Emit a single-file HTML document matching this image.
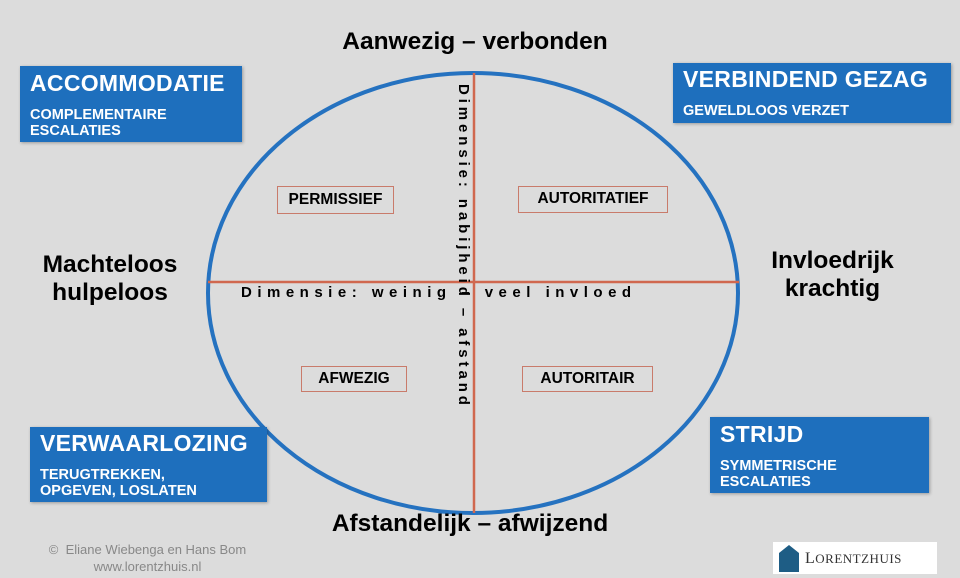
<!DOCTYPE html>
<html><head><meta charset="utf-8"><style>
body{margin:0;width:960px;height:578px;background:#dcdcdc;position:relative;overflow:hidden;font-family:"Liberation Sans",sans-serif}
.a{position:absolute}
.bb{position:absolute;background:#1e6fbd;color:#fff;font-weight:bold;box-shadow:1px 1px 3px rgba(0,0,0,.3)}
.bb .t{font-size:23px;letter-spacing:.3px}
.bb .s{font-size:14.5px;line-height:16px;margin-top:10px}
.q{position:absolute;border:1.5px solid #c97b6b;font-weight:bold;font-size:15.5px;text-align:center;box-sizing:border-box}
.h{position:absolute;font-weight:bold;font-size:24.5px;text-align:center}
</style></head><body>
<svg class="a" style="left:0;top:0" width="960" height="578">
<ellipse cx="473" cy="293" rx="265" ry="220" fill="none" stroke="#2572c0" stroke-width="4"/>
<line x1="208" y1="282" x2="739" y2="282" stroke="#d0684f" stroke-width="2.5"/>
<line x1="474" y1="73" x2="474" y2="513" stroke="#d0684f" stroke-width="2.5"/>
</svg>
<div class="h" style="left:270px;top:28px;width:410px">Aanwezig – verbonden</div>
<div class="h" style="left:260px;top:510px;width:420px">Afstandelijk – afwijzend</div>
<div class="h" style="left:10px;top:251px;width:200px;line-height:28px">Machteloos<br>hulpeloos</div>
<div class="h" style="left:750px;top:247px;width:165px;line-height:28px">Invloedrijk<br>krachtig</div>
<div class="a" style="left:241px;top:284px;font-size:15px;font-weight:bold;letter-spacing:5.5px;white-space:nowrap">Dimensie: weinig – veel invloed</div>
<div class="a" style="left:455px;top:84px;font-size:15px;font-weight:bold;letter-spacing:3.9px;writing-mode:vertical-rl;white-space:nowrap">Dimensie: nabijheid – afstand</div>
<div class="bb" style="left:20px;top:66px;width:222px;height:76px;padding:4px 10px;box-sizing:border-box"><div class="t">ACCOMMODATIE</div><div class="s">COMPLEMENTAIRE<br>ESCALATIES</div></div>
<div class="bb" style="left:673px;top:63px;width:278px;height:60px;padding:3px 10px;box-sizing:border-box"><div class="t">VERBINDEND GEZAG</div><div class="s" style="margin-top:10px">GEWELDLOOS VERZET</div></div>
<div class="bb" style="left:30px;top:427px;width:237px;height:75px;padding:3px 10px;box-sizing:border-box"><div class="t">VERWAARLOZING</div><div class="s">TERUGTREKKEN,<br>OPGEVEN, LOSLATEN</div></div>
<div class="bb" style="left:710px;top:417px;width:219px;height:76px;padding:4px 10px;box-sizing:border-box"><div class="t">STRIJD</div><div class="s">SYMMETRISCHE<br>ESCALATIES</div></div>
<div class="q" style="left:277px;top:186px;width:117px;height:28px;line-height:25px">PERMISSIEF</div>
<div class="q" style="left:518px;top:186px;width:150px;height:27px;line-height:24px">AUTORITATIEF</div>
<div class="q" style="left:301px;top:366px;width:106px;height:26px;line-height:23px">AFWEZIG</div>
<div class="q" style="left:522px;top:366px;width:131px;height:26px;line-height:23px">AUTORITAIR</div>
<div class="a" style="left:30px;top:541px;font-size:13px;color:#888;text-align:center;line-height:17px;width:235px">©&nbsp; Eliane Wiebenga en Hans Bom<br>www.lorentzhuis.nl</div>
<div class="a" style="left:773px;top:542px;width:164px;height:32px;background:#fff">
<svg class="a" style="left:4px;top:2px" width="24" height="28"><polygon points="12,1 22,9 22,28 2,28 2,9" fill="#1e5d85"/></svg>
<div class="a" style="left:32px;top:8px;font-family:'Liberation Serif',serif;font-size:16px;color:#333;letter-spacing:.5px">L<span style="font-size:13px">ORENTZHUIS</span></div>
</div>
</body></html>
